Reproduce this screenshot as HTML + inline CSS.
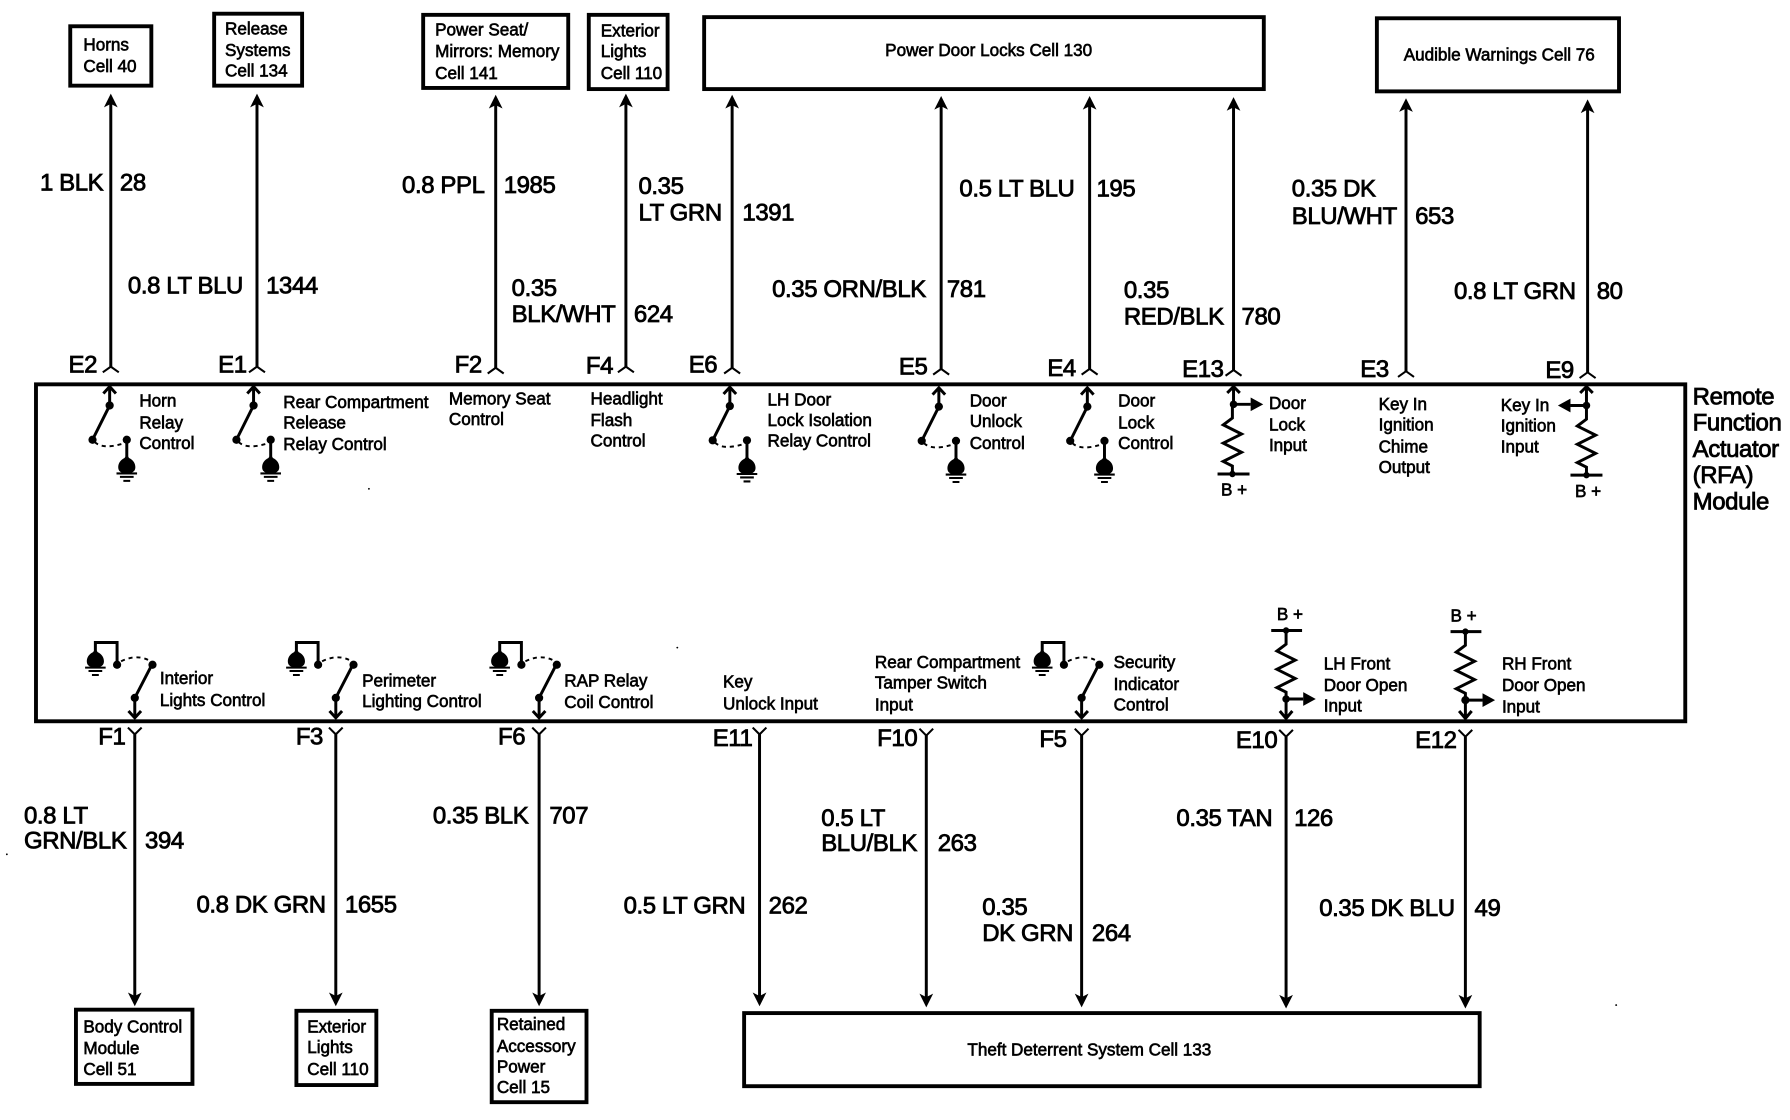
<!DOCTYPE html>
<html><head><meta charset="utf-8"><style>
html,body{margin:0;padding:0;background:#fff;width:1790px;height:1120px;overflow:hidden}
svg{display:block}
text{font-family:"Liberation Sans",sans-serif;fill:#000;stroke:#000}
.l text{font-size:21px;stroke-width:.7px;letter-spacing:-.35px}
.s text{font-size:15px;stroke-width:.55px;letter-spacing:-.02px}
.b{fill:none;stroke:#000;stroke-width:3.4}
.w{fill:none;stroke:#000;stroke-width:2.6}
.t{fill:none;stroke:#000;stroke-width:1.8}
.d{fill:none;stroke:#000;stroke-width:1.7;stroke-dasharray:3.500 3.500}
</style></head><body>
<svg width="1790" height="1120" viewBox="0 0 1567.200 980.600" xmlns="http://www.w3.org/2000/svg">
<defs>
<g id="up"><path class="w" d="M0 -4V-240"/><path d="M0 -243L6 -231L0 -234L-6 -231Z"/><path class="t" d="M-7 1L0 -4L7 1"/></g>
<g id="dn"><path class="w" d="M0 5V240"/><path d="M0 243L6 231L0 234L-6 231Z"/><path class="t" d="M-6 -1L0 5L6 -1"/></g>
<g id="gnd"><path d="M0 -15L2 -12C6 -10 7.500 -7 7.500 -4C7.500 -1 6 0 4 1H-4C-6 0 -7.500 -1 -7.500 -4C-7.500 -7 -6 -10 -2 -12Z"/><path class="t" d="M-9 1.500H9M-6 4.500H6M-3 8H3" stroke-width="1.600"/></g>
<g id="swT"><path class="w" d="M0 3V19L-15 49"/><path class="w" d="M-5.500 8.500L0 2.500L5.500 8.500"/><circle cx="0" cy="19" r="3.600"/><circle cx="-15" cy="49" r="3.600"/><circle cx="15" cy="49" r="3.600"/><path class="d" d="M-13 51Q-6 58 13 52"/><path class="w" d="M15 49V66"/><use href="#gnd" x="15" y="77"/></g>
<g id="swB"><path class="w" d="M0 -3V-20L15 -49"/><path class="w" d="M-5.500 -8.500L0 -2.500L5.500 -8.500"/><circle cx="0" cy="-20" r="3.600"/><circle cx="15.500" cy="-49" r="3.600"/><circle cx="-15.500" cy="-49" r="3.600"/><path class="d" d="M-12 -52Q2 -59 14 -52"/><path class="w" d="M-15.500 -49V-68.500H-34.500V-60"/><use href="#gnd" x="-34.500" y="-48"/></g>
<path id="zig" class="w" d="M0 0V12L-8 18L8 26L-8 34L8 42L-8 50L0 54V62"/>
</defs>
<g class="b">
<rect x="61.500" y="23" width="71" height="52"/>
<rect x="187.500" y="12" width="77" height="63"/>
<rect x="370.500" y="13" width="127" height="64"/>
<rect x="515.500" y="13" width="69" height="65"/>
<rect x="616.500" y="15" width="490" height="63"/>
<rect x="1205.500" y="16" width="212" height="64"/>
<rect x="31.500" y="336.500" width="1444" height="295"/>
<rect x="66.500" y="884" width="102" height="65"/>
<rect x="259.500" y="885" width="70" height="65"/>
<rect x="430.500" y="885" width="83" height="80"/>
<rect x="651.500" y="887" width="644" height="64"/>
</g>
<use href="#up" x="97" y="325"/><use href="#up" x="225" y="325"/><use href="#up" x="434" y="326"/><use href="#up" x="548" y="325"/><use href="#up" x="641" y="326"/><use href="#up" x="824" y="327"/><use href="#up" x="954" y="327"/><use href="#up" x="1080" y="328"/><use href="#up" x="1231" y="329"/><use href="#up" x="1390" y="330"/>
<use href="#dn" x="118" y="638"/><use href="#dn" x="294" y="638"/><use href="#dn" x="472" y="638"/><use href="#dn" x="665" y="638"/><use href="#dn" x="811" y="639"/><use href="#dn" x="947" y="639"/><use href="#dn" x="1126" y="640"/><use href="#dn" x="1283" y="640"/>
<use href="#swT" x="96" y="336"/><use href="#swT" x="222" y="336"/><use href="#swT" x="639" y="336.500"/><use href="#swT" x="822" y="337"/><use href="#swT" x="952" y="337"/>
<use href="#swB" x="118" y="631"/><use href="#swB" x="294" y="631"/><use href="#swB" x="472" y="631"/><use href="#swB" x="947" y="631"/>
<!-- resistors -->
<path class="w" d="M1080 340V354H1095M1074.500 344L1080 338.500L1085.500 344"/><path d="M1106 354L1095 348V360Z"/><circle cx="1080" cy="354" r="3.300"/><use href="#zig" x="1079" y="354"/><path class="w" d="M1066 415H1094"/><circle cx="1079" cy="415" r="2.800"/>
<path class="w" d="M1389 340V355H1375M1383.500 344L1389 338.500L1394.500 344"/><path d="M1364 355L1375 349V361Z"/><circle cx="1389" cy="355" r="3.300"/><use href="#zig" x="1389" y="355"/><path class="w" d="M1375 416H1403"/><circle cx="1389" cy="416" r="2.800"/>
<path class="w" d="M1113 552H1140"/><circle cx="1126" cy="552" r="2.800"/><use href="#zig" x="1126" y="552"/><path class="w" d="M1126 612V628M1126 612H1141M1120.500 622.500L1126 629L1131.500 622.500"/><circle cx="1126" cy="612" r="3.300"/><path d="M1152 612L1141 606V618Z"/>
<path class="w" d="M1270 553H1297"/><circle cx="1283" cy="553" r="2.800"/><use href="#zig" x="1283" y="553"/><path class="w" d="M1283 613V628M1283 613H1298M1277.500 622.500L1283 629L1288.500 622.500"/><circle cx="1283" cy="613" r="3.600"/><path d="M1309 613L1298 607V619Z"/>
<circle cx="6" cy="748" r=".8"/><circle cx="323" cy="428" r=".8"/><circle cx="1415" cy="880" r=".8"/><circle cx="593" cy="567" r=".8"/>
<g class="l">
<text x="35" y="167">1 BLK</text><text x="105" y="167">28</text>
<text x="112" y="257">0.8 LT BLU</text><text x="233" y="257">1344</text>
<text x="352" y="169">0.8 PPL</text><text x="441" y="169">1985</text>
<text x="448" y="259">0.35</text><text x="448" y="282">BLK/WHT</text><text x="555" y="282">624</text>
<text x="559" y="170">0.35</text><text x="559" y="193">LT GRN</text><text x="650" y="193">1391</text>
<text x="676" y="260">0.35 ORN/BLK</text><text x="829" y="260">781</text>
<text x="840" y="172">0.5 LT BLU</text><text x="960" y="172">195</text>
<text x="984" y="261">0.35</text><text x="984" y="284">RED/BLK</text><text x="1087" y="284">780</text>
<text x="1131" y="172">0.35 DK</text><text x="1131" y="196">BLU/WHT</text><text x="1239" y="196">653</text>
<text x="1273" y="262">0.8 LT GRN</text><text x="1398" y="262">80</text>
<text x="21" y="721">0.8 LT</text><text x="21" y="743">GRN/BLK</text><text x="127" y="743">394</text>
<text x="172" y="799">0.8 DK GRN</text><text x="302" y="799">1655</text>
<text x="379" y="721">0.35 BLK</text><text x="481" y="721">707</text>
<text x="546" y="800">0.5 LT GRN</text><text x="673" y="800">262</text>
<text x="719" y="723">0.5 LT</text><text x="719" y="745">BLU/BLK</text><text x="821" y="745">263</text>
<text x="860" y="801">0.35</text><text x="860" y="824">DK GRN</text><text x="956" y="824">264</text>
<text x="1030" y="723">0.35 TAN</text><text x="1133" y="723">126</text>
<text x="1155" y="802">0.35 DK BLU</text><text x="1291" y="802">49</text>
<text x="60" y="326">E2</text><text x="191" y="326">E1</text><text x="398" y="326">F2</text><text x="513" y="327">F4</text><text x="603" y="326">E6</text><text x="787" y="328">E5</text><text x="917" y="329">E4</text><text x="1035" y="330">E13</text><text x="1191" y="330">E3</text><text x="1353" y="331">E9</text>
<text x="86" y="652">F1</text><text x="259" y="652">F3</text><text x="436" y="652">F6</text><text x="624" y="653">E11</text><text x="768" y="653">F10</text><text x="910" y="654">F5</text><text x="1082" y="655">E10</text><text x="1239" y="655">E12</text>
<text x="1482" y="354">Remote</text><text x="1482" y="377">Function</text><text x="1482" y="400">Actuator</text><text x="1482" y="423">(RFA)</text><text x="1482" y="446">Module</text>
</g>
<g class="s">
<text x="73" y="44">Horns</text><text x="73" y="63">Cell 40</text>
<text x="197" y="30">Release</text><text x="197" y="49">Systems</text><text x="197" y="67">Cell 134</text>
<text x="381" y="31">Power Seat/</text><text x="381" y="50">Mirrors: Memory</text><text x="381" y="69">Cell 141</text>
<text x="526" y="32">Exterior</text><text x="526" y="50">Lights</text><text x="526" y="69">Cell 110</text>
<text x="775" y="49">Power Door Locks Cell 130</text>
<text x="1229" y="53">Audible Warnings Cell 76</text>
<text x="122" y="356">Horn</text><text x="122" y="375">Relay</text><text x="122" y="393">Control</text>
<text x="248" y="357">Rear Compartment</text><text x="248" y="375">Release</text><text x="248" y="394">Relay Control</text>
<text x="393" y="354">Memory Seat</text><text x="393" y="372">Control</text>
<text x="517" y="354">Headlight</text><text x="517" y="373">Flash</text><text x="517" y="391">Control</text>
<text x="672" y="355">LH Door</text><text x="672" y="373">Lock Isolation</text><text x="672" y="391">Relay Control</text>
<text x="849" y="356">Door</text><text x="849" y="374">Unlock</text><text x="849" y="393">Control</text>
<text x="979" y="356">Door</text><text x="979" y="375">Lock</text><text x="979" y="393">Control</text>
<text x="1111" y="358">Door</text><text x="1111" y="377">Lock</text><text x="1111" y="395">Input</text>
<text x="1207" y="359">Key In</text><text x="1207" y="377">Ignition</text><text x="1207" y="396">Chime</text><text x="1207" y="414">Output</text>
<text x="1314" y="360">Key In</text><text x="1314" y="378">Ignition</text><text x="1314" y="396">Input</text>
<text x="1069" y="434">B +</text><text x="1379" y="435">B +</text>
<text x="140" y="599">Interior</text><text x="140" y="618">Lights Control</text>
<text x="317" y="601">Perimeter</text><text x="317" y="619">Lighting Control</text>
<text x="494" y="601">RAP Relay</text><text x="494" y="620">Coil Control</text>
<text x="633" y="602">Key</text><text x="633" y="621">Unlock Input</text>
<text x="766" y="585">Rear Compartment</text><text x="766" y="603">Tamper Switch</text><text x="766" y="622">Input</text>
<text x="975" y="585">Security</text><text x="975" y="604">Indicator</text><text x="975" y="622">Control</text>
<text x="1159" y="586">LH Front</text><text x="1159" y="605">Door Open</text><text x="1159" y="623">Input</text>
<text x="1315" y="586">RH Front</text><text x="1315" y="605">Door Open</text><text x="1315" y="624">Input</text>
<text x="1118" y="543">B +</text><text x="1270" y="544">B +</text>
<text x="73" y="904">Body Control</text><text x="73" y="923">Module</text><text x="73" y="941">Cell 51</text>
<text x="269" y="904">Exterior</text><text x="269" y="922">Lights</text><text x="269" y="941">Cell 110</text>
<text x="435" y="902">Retained</text><text x="435" y="921">Accessory</text><text x="435" y="939">Power</text><text x="435" y="957">Cell 15</text>
<text x="847" y="924">Theft Deterrent System Cell 133</text>
</g>
</svg>
</body></html>
